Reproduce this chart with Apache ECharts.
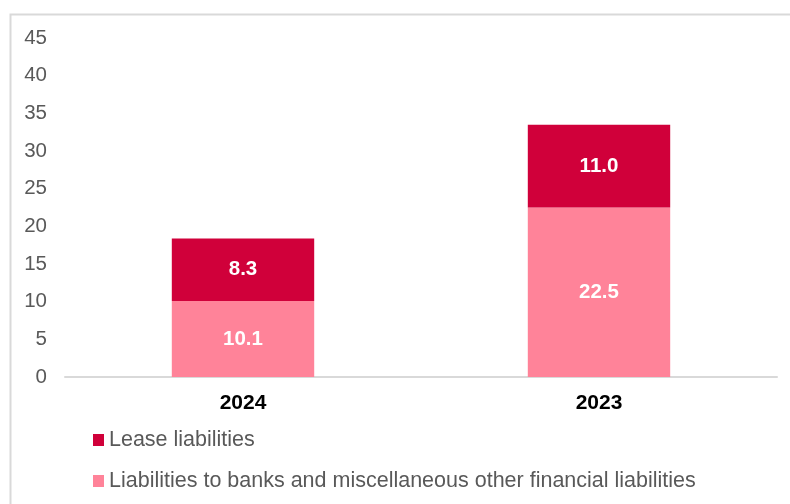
<!DOCTYPE html>
<html><head><meta charset="utf-8">
<script src="https://cdn.jsdelivr.net/npm/echarts@6/dist/echarts.min.js"></script>
<style>html,body{margin:0;padding:0;background:#fff}#c{width:790px;height:504px}</style>
</head><body><div id="c"></div>
<script>
const categories = ['2024', '2023'];
const bankLiabilities = [10.1, 22.5];
const leaseLiabilities = [8.3, 11.0];
const yTicks = {min: 0, max: 45, interval: 5};
const seriesNames = ['Liabilities to banks and miscellaneous other financial liabilities', 'Lease liabilities'];

const chart = echarts.init(document.getElementById('c'), null, {renderer: 'canvas'});
const font = 'Liberation Sans, Arial, sans-serif';
const lbl = {show: true, position: 'inside', color: '#fff', fontWeight: 'bold', fontSize: 20.5, fontFamily: font, formatter: p => p.value.toFixed(1)};
chart.setOption({
  animation: false,
  graphic: [{type: 'rect', shape: {x: 10.5, y: 14.5, width: 900, height: 600}, style: {fill: 'none', stroke: '#d9d9d9', lineWidth: 2}}],
  grid: {left: 65, right: 13, top: 38, bottom: 127},
  legend: {
    orient: 'vertical', left: 88, top: 424, itemWidth: 11, itemHeight: 12, itemGap: 19,
    icon: 'rect',
    data: [seriesNames[1], seriesNames[0]],
    textStyle: {color: '#595959', fontSize: 21.5, fontFamily: font}
  },
  xAxis: {
    type: 'category', data: categories,
    axisLine: {lineStyle: {color: '#d9d9d9', width: 2}}, axisTick: {show: false},
    axisLabel: {color: '#000', fontWeight: 'bold', fontSize: 21, fontFamily: font, margin: 16}
  },
  yAxis: {
    type: 'value', min: yTicks.min, max: yTicks.max, interval: yTicks.interval,
    splitLine: {show: false}, axisLine: {show: false}, axisTick: {show: false},
    axisLabel: {color: '#595959', fontSize: 20.5, fontFamily: font, margin: 18}
  },
  series: [
    {name: seriesNames[0], type: 'bar', stack: 'a', data: bankLiabilities, barWidth: '40%', itemStyle: {color: '#ff8399'}, label: lbl},
    {name: seriesNames[1], type: 'bar', stack: 'a', data: leaseLiabilities, barWidth: '40%', itemStyle: {color: '#d0003a'}, label: lbl}
  ]
});
</script></body></html>
